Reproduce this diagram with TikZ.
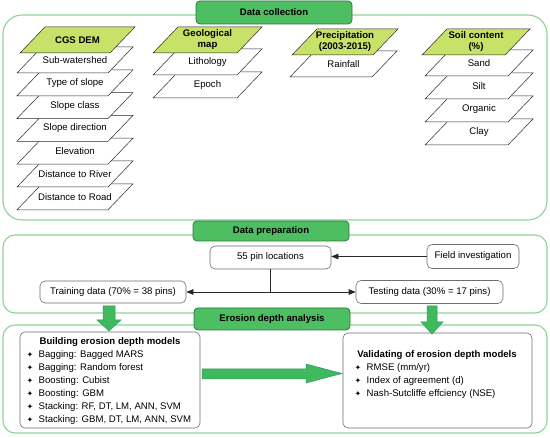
\documentclass[tikz,border=0pt]{standalone}
\usepackage{fontspec}
\setmainfont{Liberation Sans}
\newfontfamily\dejavu{DejaVu Sans}
\usetikzlibrary{arrows.meta}
\definecolor{hdrfill}{RGB}{78,190,98}
\definecolor{hdrdraw}{RGB}{45,120,60}
\definecolor{outergreen}{RGB}{140,212,150}
\definecolor{layergreen}{RGB}{200,226,105}
\definecolor{arrfill}{RGB}{64,184,92}
\definecolor{arrdraw}{RGB}{55,150,115}
\definecolor{boxgray}{RGB}{110,110,110}
\definecolor{linegray}{RGB}{40,40,40}
\newcommand\plane[6]{%
  \draw[planeline, fill=#5] (#2,#3) -- ++(#4,0) -- ++(25,-26) -- ++(-#4,0) -- cycle;
  \node[planetext] (#1) at ({#2+#4/2+12.5},{#3-13}) {#6};}
\newcommand\bul[2]{\node[bulletmark] (#1) at #2 {✦};}
\begin{document}
\begin{tikzpicture}[x=1pt,y=-1pt,
  font=\fontsize{9.6}{11}\selectfont,
  planeline/.style={draw=linegray, line width=0.5pt},
  planetext/.style={inner sep=0pt, align=center},
  outerbox/.style={draw=outergreen, line width=1.1pt},
  header/.style={draw=hdrdraw, fill=hdrfill, line width=0.8pt, rounded corners=4pt,
    minimum width=156pt, font=\fontsize{9.6}{11}\selectfont\bfseries, inner sep=0pt},
  innerbox/.style={draw=boxgray, fill=white, line width=0.6pt, rounded corners=5pt, inner sep=0pt},
  conn/.style={draw=linegray, line width=0.6pt, -{Triangle[length=7pt,width=5.5pt]}},
  plainline/.style={draw=linegray, line width=0.6pt},
  bigarrow/.style={fill=arrfill, draw=arrdraw, line width=0.5pt},
  bulletmark/.style={inner sep=0pt, font=\dejavu\fontsize{7.5}{7.5}\selectfont},
  itemtext/.style={anchor=west, inner sep=0pt},
  titletext/.style={inner sep=0pt, font=\fontsize{9.6}{11}\selectfont\bfseries}]
\useasboundingbox[fill=white] (0,0) rectangle (550,438);

% outer boxes
\draw[outerbox, rounded corners=19pt] (3,15) rectangle (547,220);
\draw[outerbox, rounded corners=12pt] (3,235) rectangle (547,313);
\draw[outerbox, rounded corners=12pt] (3,325) rectangle (547,433);

% headers
\node[header, minimum height=23pt] (hcol) at (274,12.5) {Data collection};
\node[header, minimum height=20pt] (hprep) at (271,231) {Data preparation};
\node[header, minimum height=22pt] (hana) at (272,319) {Erosion depth analysis};

% CGS DEM stack
\plane{c7}{17}{209.8}{91}{white}{Distance to Road}
\plane{c6}{17}{187}{91}{white}{Distance to River}
\plane{c5}{17}{164.2}{91}{white}{Elevation}
\plane{c4}{17}{141.4}{91}{white}{Slope direction}
\plane{c3}{17}{118.6}{91}{white}{Slope class}
\plane{c2}{17}{95.8}{91}{white}{Type of slope}
\plane{c1}{17}{73}{91}{white}{Sub-watershed}
\plane{c0}{20}{53}{90}{layergreen}{\bfseries CGS DEM}

% Geological map stack
\plane{g2}{153}{98}{84}{white}{Epoch}
\plane{g1}{153}{75}{84}{white}{Lithology}
\plane{g0}{153}{53}{84}{layergreen}{\bfseries Geological\\\bfseries map}

% Precipitation stack
\plane{p1}{290}{77}{82}{white}{Rainfall}
\plane{p0}{292}{55}{81}{layergreen}{\bfseries Precipitation\\\bfseries (2003-2015)}

% Soil content stack
\plane{s4}{425}{145}{83}{white}{Clay}
\plane{s3}{425}{122}{83}{white}{Organic}
\plane{s2}{425}{99}{83}{white}{Silt}
\plane{s1}{425}{76}{83}{white}{Sand}
\plane{s0}{422}{55}{83}{layergreen}{\bfseries Soil content\\\bfseries (\%)}

% data preparation
\node[innerbox, minimum width=121pt, minimum height=23pt] (pin) at (270.5,257.5) {55 pin locations};
\node[innerbox, minimum width=92pt, minimum height=24pt] (field) at (473,256.5) {Field investigation};
\node[innerbox, minimum width=146pt, minimum height=22pt] (train) at (113,292) {Training data (70\% = 38 pins)};
\node[innerbox, minimum width=147pt, minimum height=23pt] (test) at (429.5,292) {Testing data (30\% = 17 pins)};
\coordinate (j) at (pin.south |- train.east);
\draw[conn] (field.west) -- (field.west -| pin.east);
\draw[plainline] (pin.south) -- (j);
\draw[conn] (j) -- (train.east);
\draw[conn] (j) -- (test.west);

% analysis boxes
\node[innerbox, minimum width=180pt, minimum height=96pt] (build) at (110,380) {};
\node[innerbox, minimum width=189pt, minimum height=95pt] (valid) at (437.5,380.5) {};

\node[titletext] (bt) at (110,342) {Building erosion depth models};
\bul{bb1}{(30,355)} \node[itemtext] (bi1) at (38.5,355) {Bagging: Bagged MARS};
\bul{bb2}{(30,368)} \node[itemtext] (bi2) at (38.5,368) {Bagging: Random forest};
\bul{bb3}{(30,381)} \node[itemtext] (bi3) at (38.5,381) {Boosting: Cubist};
\bul{bb4}{(30,394)} \node[itemtext] (bi4) at (38.5,394) {Boosting: GBM};
\bul{bb5}{(30,407)} \node[itemtext] (bi5) at (38.5,407) {Stacking: RF, DT, LM, ANN, SVM};
\bul{bb6}{(30,420)} \node[itemtext] (bi6) at (38.5,420) {Stacking: GBM, DT, LM, ANN, SVM};

\node[titletext] (vt) at (437,355) {Validating of erosion depth models};
\bul{vb1}{(358,368)} \node[itemtext] (vi1) at (366.5,368) {RMSE (mm/yr)};
\bul{vb2}{(358,381)} \node[itemtext] (vi2) at (366.5,381) {Index of agreement (d)};
\bul{vb3}{(358,394)} \node[itemtext] (vi3) at (366.5,394) {Nash-Sutcliffe effciency (NSE)};

% big arrows
\draw[bigarrow] (103,306) -- (115,306) -- (115,320) -- (121,320) -- (109,331) -- (97,320) -- (103,320) -- cycle;
\draw[bigarrow] (427,306) -- (437,306) -- (437,322) -- (443,322) -- (432,334) -- (421,322) -- (427,322) -- cycle;
\draw[bigarrow] (202,369) -- (306,369) -- (306,364) -- (342,373.5) -- (306,383) -- (306,379) -- (202,379) -- cycle;
\end{tikzpicture}
\end{document}
